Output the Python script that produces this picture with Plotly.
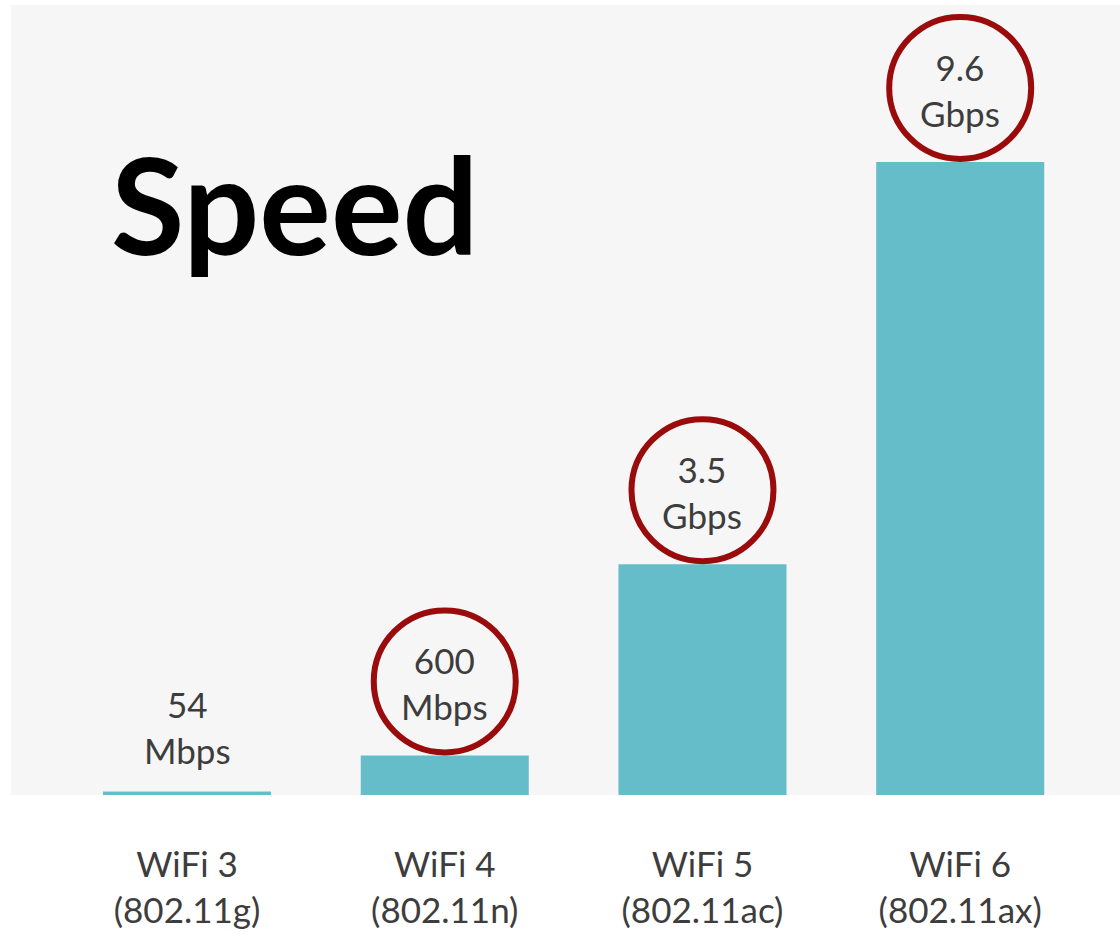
import plotly.graph_objects as go

categories = ["WiFi 3", "WiFi 4", "WiFi 5", "WiFi 6"]
standards = ["(802.11g)", "(802.11n)", "(802.11ac)", "(802.11ax)"]
speeds_mbps = [54, 600, 3500, 9600]
speed_numbers = ["54", "600", "3.5", "9.6"]
speed_units = ["Mbps", "Mbps", "Gbps", "Gbps"]
circled = [False, True, True, True]

BAR_COLOR = "#66bdca"
RING_COLOR = "#9a0b0b"
TEXT_COLOR = "#3d3d3d"
FONT = "Lato"

x_idx = list(range(len(categories)))

fig = go.Figure()
fig.add_trace(go.Bar(
    x=x_idx, y=speeds_mbps, marker=dict(color=BAR_COLOR, line=dict(width=0)),
    hoverinfo="skip", showlegend=False,
))

shapes = []
annotations = []
for i, v, num, unit, c in zip(x_idx, speeds_mbps, speed_numbers, speed_units, circled):
    if c:
        shapes.append(dict(
            type="circle", xref="x", yref="y", xsizemode="pixel", ysizemode="pixel",
            xanchor=i, yanchor=v, x0=-71, x1=71, y0=3, y1=145,
            line=dict(color=RING_COLOR, width=6), fillcolor="rgba(0,0,0,0)", layer="above",
        ))
    annotations.append(dict(
        x=i, y=v, xref="x", yref="y", text=f"{num}<br>{unit}", showarrow=False,
        xanchor="center", yanchor="middle", yshift=(72 if c else 64),
        font=dict(family=FONT, size=35, color=TEXT_COLOR),
    ))

annotations.append(dict(
    x=0.088, y=0.749, xref="paper", yref="paper", text="<b>Speed</b>", showarrow=False,
    xanchor="left", yanchor="middle",
    font=dict(family=FONT, size=134, color="black"),
))

fig.update_layout(
    width=1120, height=934,
    margin=dict(l=11, r=0, t=5, b=139),
    paper_bgcolor="white", plot_bgcolor="#f6f6f6",
    bargap=0.348,
    shapes=shapes, annotations=annotations,
    xaxis=dict(
        range=[-0.683, 3.62], tickmode="array", tickvals=x_idx,
        ticktext=[f"{a}<br>{b}" for a, b in zip(categories, standards)],
        tickfont=dict(family=FONT, size=35, color=TEXT_COLOR),
        showgrid=False, zeroline=False, showline=False, ticks="",
        ticklabelstandoff=46, automargin=False,
    ),
    yaxis=dict(range=[0, 11980], visible=False, showgrid=False, zeroline=False,
               automargin=False),
)

fig.write_html("out.html")
